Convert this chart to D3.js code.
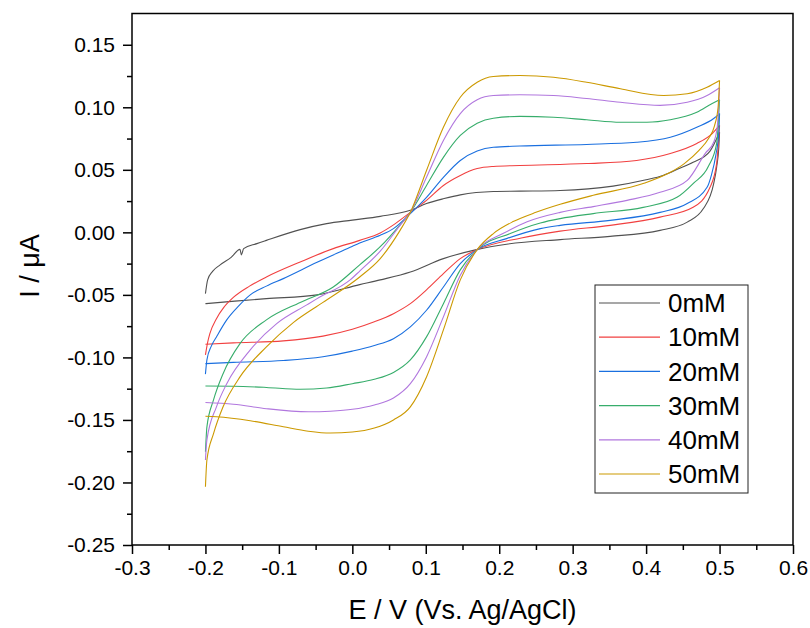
<!DOCTYPE html>
<html>
<head>
<meta charset="utf-8">
<script src="https://cdn.jsdelivr.net/npm/d3@7/dist/d3.min.js"></script>
<style>
  body { margin: 0; background: #fff; }
  text { font-family: Arial, "Liberation Sans", sans-serif; fill: #000; }
</style>
</head>
<body>
<script>
'use strict';

var width = 810,
    height = 628;

// series names and colours
var labels = ["0mM", "10mM", "20mM", "30mM", "40mM", "50mM"];
var colors = ["#515151", "#F14040", "#1A6FDF", "#37AD6B", "#B177DE", "#CC9900"];

// each scan: [E (V), I (uA)] from -0.2 V up to 0.5 V and back again
var cv0 = [[-0.200,-0.049],[-0.197,-0.038],[-0.190,-0.031],[-0.180,-0.026],[-0.165,-0.020],[-0.153,-0.0136],[-0.151,-0.018],[-0.148,-0.013],
  [-0.130,-0.009],[-0.117,-0.0064],[-0.071,0.0022],[-0.035,0.007],[0.000,0.0098],[0.038,0.0128],[0.079,0.0176],[0.101,0.023],[0.125,0.027],
  [0.147,0.030],[0.192,0.0327],[0.228,0.033],[0.283,0.0335],[0.355,0.037],[0.400,0.042],[0.423,0.0455],[0.445,0.051],[0.464,0.056],
  [0.487,0.065],[0.500,0.080],
  [0.499,0.068],[0.496,0.052],[0.492,0.039],[0.478,0.019],[0.456,0.0082],[0.419,0.0016],[0.351,-0.0032],[0.283,-0.0058],
  [0.210,-0.0095],[0.169,-0.0138],[0.124,-0.021],[0.079,-0.0317],[0.038,-0.038],[0.010,-0.0418],[-0.048,-0.050],[-0.117,-0.053],
  [-0.160,-0.055],[-0.200,-0.057]];

var cv10 = [[-0.200,-0.098],[-0.197,-0.088],[-0.194,-0.081],[-0.185,-0.069],[-0.175,-0.060],[-0.162,-0.052],[-0.140,-0.043],[-0.117,-0.0357],
  [-0.071,-0.0237],[-0.026,-0.013],[0.010,-0.0064],[0.038,-0.0005],[0.055,0.0056],[0.079,0.016],[0.101,0.0256],[0.124,0.0375],
  [0.147,0.0455],[0.170,0.051],[0.192,0.0527],[0.228,0.0535],[0.319,0.055],[0.387,0.0575],[0.433,0.063],[0.469,0.071],[0.490,0.079],
  [0.500,0.0855],
  [0.498,0.068],[0.496,0.055],[0.487,0.036],[0.464,0.020],[0.419,0.0122],[0.351,0.0056],[0.283,0.001],[0.230,-0.0045],
  [0.170,-0.0138],[0.147,-0.021],[0.124,-0.033],[0.101,-0.046],[0.079,-0.057],[0.056,-0.065],[0.030,-0.0715],[0.000,-0.0775],
  [-0.040,-0.083],[-0.094,-0.0868],[-0.162,-0.0884],[-0.200,-0.0895]];

var cv20 = [[-0.200,-0.1134],[-0.198,-0.102],[-0.192,-0.091],[-0.185,-0.0836],[-0.171,-0.070],[-0.155,-0.059],[-0.139,-0.050],
  [-0.117,-0.043],[-0.094,-0.037],[-0.048,-0.024],[-0.003,-0.012],[0.010,-0.0085],[0.038,-0.0024],[0.056,0.003],[0.079,0.015],
  [0.101,0.028],[0.124,0.044],[0.147,0.0575],[0.170,0.065],[0.192,0.068],[0.228,0.069],[0.319,0.0703],[0.387,0.072],[0.433,0.076],
  [0.469,0.084],[0.492,0.091],[0.500,0.095],
  [0.499,0.080],[0.495,0.062],[0.489,0.046],[0.483,0.036],[0.456,0.023],[0.419,0.016],[0.351,0.0096],[0.283,0.0056],[0.256,0.003],
  [0.210,-0.005],[0.170,-0.0138],[0.147,-0.025],[0.124,-0.0437],[0.101,-0.0623],[0.079,-0.0756],[0.056,-0.085],[0.030,-0.0905],
  [0.000,-0.095],[-0.040,-0.0995],[-0.094,-0.1025],[-0.162,-0.104],[-0.200,-0.105]];

var cv30 = [[-0.200,-0.1755],[-0.198,-0.1555],[-0.189,-0.134],[-0.176,-0.113],[-0.153,-0.089],[-0.117,-0.070],[-0.071,-0.056],
  [-0.026,-0.0437],[0.010,-0.026],[0.038,-0.0115],[0.065,0.006],[0.079,0.016],[0.101,0.0375],[0.124,0.060],[0.147,0.0775],
  [0.170,0.0873],[0.192,0.0913],[0.228,0.0927],[0.274,0.092],[0.319,0.090],[0.365,0.088],[0.401,0.088],[0.433,0.090],[0.469,0.096],
  [0.490,0.103],[0.500,0.106],
  [0.496,0.071],[0.485,0.053],[0.464,0.039],[0.442,0.028],[0.396,0.020],[0.328,0.015],[0.283,0.011],[0.256,0.0075],[0.215,-0.001],
  [0.170,-0.0138],[0.147,-0.030],[0.124,-0.057],[0.101,-0.0836],[0.079,-0.102],[0.056,-0.112],[0.030,-0.1175],[0.000,-0.121],
  [-0.035,-0.1245],[-0.071,-0.1255],[-0.117,-0.124],[-0.162,-0.123],[-0.200,-0.1228]];

var cv40 = [[-0.200,-0.182],[-0.198,-0.166],[-0.185,-0.1395],[-0.171,-0.121],[-0.139,-0.094],[-0.103,-0.073],[-0.062,-0.058],
  [-0.048,-0.053],[-0.003,-0.038],[0.010,-0.031],[0.038,-0.015],[0.065,0.0056],[0.079,0.016],[0.101,0.044],[0.124,0.0735],
  [0.147,0.095],[0.170,0.106],[0.192,0.1094],[0.228,0.110],[0.274,0.1094],[0.319,0.107],[0.365,0.104],[0.419,0.1015],[0.456,0.104],
  [0.483,0.1094],[0.500,0.1156],
  [0.497,0.085],[0.492,0.072],[0.481,0.0635],[0.456,0.0415],[0.419,0.032],[0.374,0.0256],[0.328,0.0206],[0.283,0.016],[0.238,0.0085],
  [0.205,-0.001],[0.170,-0.0138],[0.147,-0.0343],[0.124,-0.0676],[0.101,-0.0996],[0.079,-0.121],[0.056,-0.1325],[0.030,-0.138],
  [0.000,-0.1415],[-0.030,-0.143],[-0.060,-0.1435],[-0.117,-0.141],[-0.162,-0.1374],[-0.200,-0.136]];

var cv50 = [[-0.200,-0.2034],[-0.198,-0.182],[-0.189,-0.161],[-0.176,-0.1395],[-0.153,-0.1156],[-0.117,-0.0916],[-0.080,-0.072],
  [-0.040,-0.056],[0.010,-0.0357],[0.038,-0.021],[0.065,0.0016],[0.079,0.016],[0.101,0.0495],[0.124,0.084],
  [0.147,0.108],[0.170,0.120],[0.192,0.1246],[0.228,0.1254],[0.274,0.124],[0.319,0.120],[0.365,0.1148],[0.424,0.1094],[0.456,0.1108],
  [0.483,0.116],[0.500,0.1214],
  [0.498,0.100],[0.493,0.085],[0.485,0.075],[0.472,0.0655],[0.452,0.055],[0.433,0.048],[0.396,0.039],[0.328,0.0296],[0.283,0.0224],
  [0.250,0.016],[0.219,0.0086],[0.192,-0.001],[0.170,-0.0138],[0.147,-0.038],[0.124,-0.078],[0.101,-0.1156],[0.079,-0.1395],[0.056,-0.150],
  [0.030,-0.1565],[0.000,-0.1597],[-0.030,-0.1605],[-0.060,-0.159],[-0.094,-0.1555],[-0.139,-0.1507],[-0.185,-0.1475],[-0.200,-0.147]];

var scans = [cv0, cv10, cv20, cv30, cv40, cv50];

var xTicks = [-0.3, -0.2, -0.1, 0.0, 0.1, 0.2, 0.3, 0.4, 0.5, 0.6];
var yTicks = [-0.25, -0.20, -0.15, -0.10, -0.05, 0.00, 0.05, 0.10, 0.15];

var mLeft = 132, mRight = 793, mTop = 13.5, mBottom = 545;

var svg = d3.select("body").append("svg")
    .attr("width", width)
    .attr("height", height);

var x = d3.scaleLinear().domain([-0.3, 0.6]).range([mLeft, mRight]);
var y = d3.scaleLinear().domain([-0.25, 0.175]).range([mBottom, mTop]);

// minor ticks halfway between the labelled ones
var xMinor = xTicks.slice(0, -1).map(function(d){ return d + 0.05; });
var yMinor = yTicks.slice(0, -1).map(function(d){ return d + 0.025; });

svg.append("g")
    .attr("transform", "translate(0," + mBottom + ")")
    .call(d3.axisBottom(x).tickValues(xMinor).tickSize(5).tickFormat(""))
    .call(function(g){ g.select(".domain").remove(); });

svg.append("g")
    .attr("transform", "translate(" + mLeft + ",0)")
    .call(d3.axisLeft(y).tickValues(yMinor).tickSize(5).tickFormat(""))
    .call(function(g){ g.select(".domain").remove(); });

var xAxis = svg.append("g")
    .attr("transform", "translate(0," + mBottom + ")")
    .call(d3.axisBottom(x).tickValues(xTicks).tickSize(9).tickPadding(6)
        .tickFormat(function(d){ return d.toFixed(1); }));

var yAxis = svg.append("g")
    .attr("transform", "translate(" + mLeft + ",0)")
    .call(d3.axisLeft(y).tickValues(yTicks).tickSize(9).tickPadding(8)
        .tickFormat(function(d){ return d.toFixed(2); }));

[xAxis, yAxis].forEach(function(g){
  g.select(".domain").remove();
  g.selectAll("text").style("font-size", "21px").style("font-family", "Arial, 'Liberation Sans', sans-serif");
});
svg.selectAll(".tick line").attr("stroke", "#000").attr("stroke-width", 1.5);

// split a scan at 0.5 V into the forward and the backward sweep,
// both in rising E so a monotone curve can smooth them
function sweeps(d) {
  var k = d.findIndex(function(p){ return p[0] === 0.5; });
  return [d.slice(0, k + 1), d.slice(k).reverse()];
}

var line = d3.line()
    .x(function(d){ return x(d[0]); })
    .y(function(d){ return y(d[1]); })
    .curve(d3.curveMonotoneX);

var curves = svg.append("g")
    .selectAll("g")
    .data(scans)
    .enter().append("g")
        .attr("stroke", function(d, i){ return colors[i]; });

curves.selectAll("path")
    .data(sweeps)
    .enter().append("path")
        .attr("d", line)
        .attr("fill", "none")
        .attr("stroke-width", 1.1);

// frame
svg.append("rect")
    .attr("x", mLeft).attr("y", mTop)
    .attr("width", mRight - mLeft).attr("height", mBottom - mTop)
    .attr("fill", "none")
    .attr("stroke", "#000")
    .attr("stroke-width", 1.5);

// axis titles
svg.append("text")
    .attr("x", (mLeft + mRight) / 2)
    .attr("y", 619)
    .attr("text-anchor", "middle")
    .style("font-size", "27px")
    .text("E / V (Vs. Ag/AgCl)");

svg.append("text")
    .attr("transform", "translate(39,266) rotate(-90)")
    .attr("text-anchor", "middle")
    .style("font-size", "27px")
    .text("I / μA");

// legend
var legend = svg.append("g");
legend.append("rect")
    .attr("x", 595).attr("y", 285)
    .attr("width", 153).attr("height", 208)
    .attr("fill", "#fff")
    .attr("stroke", "#222")
    .attr("stroke-width", 1);

var item = legend.selectAll(".item")
    .data(labels)
    .enter().append("g")
        .attr("class", "item")
        .attr("transform", function(d, i){ return "translate(0," + (303 + i * 34.2) + ")"; });

item.append("line")
    .attr("x1", 599).attr("x2", 660)
    .attr("stroke", function(d, i){ return colors[i]; })
    .attr("stroke-width", 1.2);

item.append("text")
    .attr("x", 668)
    .attr("dy", "0.35em")
    .style("font-size", "26px")
    .text(function(d){ return d; });
</script>
</body>
</html>
